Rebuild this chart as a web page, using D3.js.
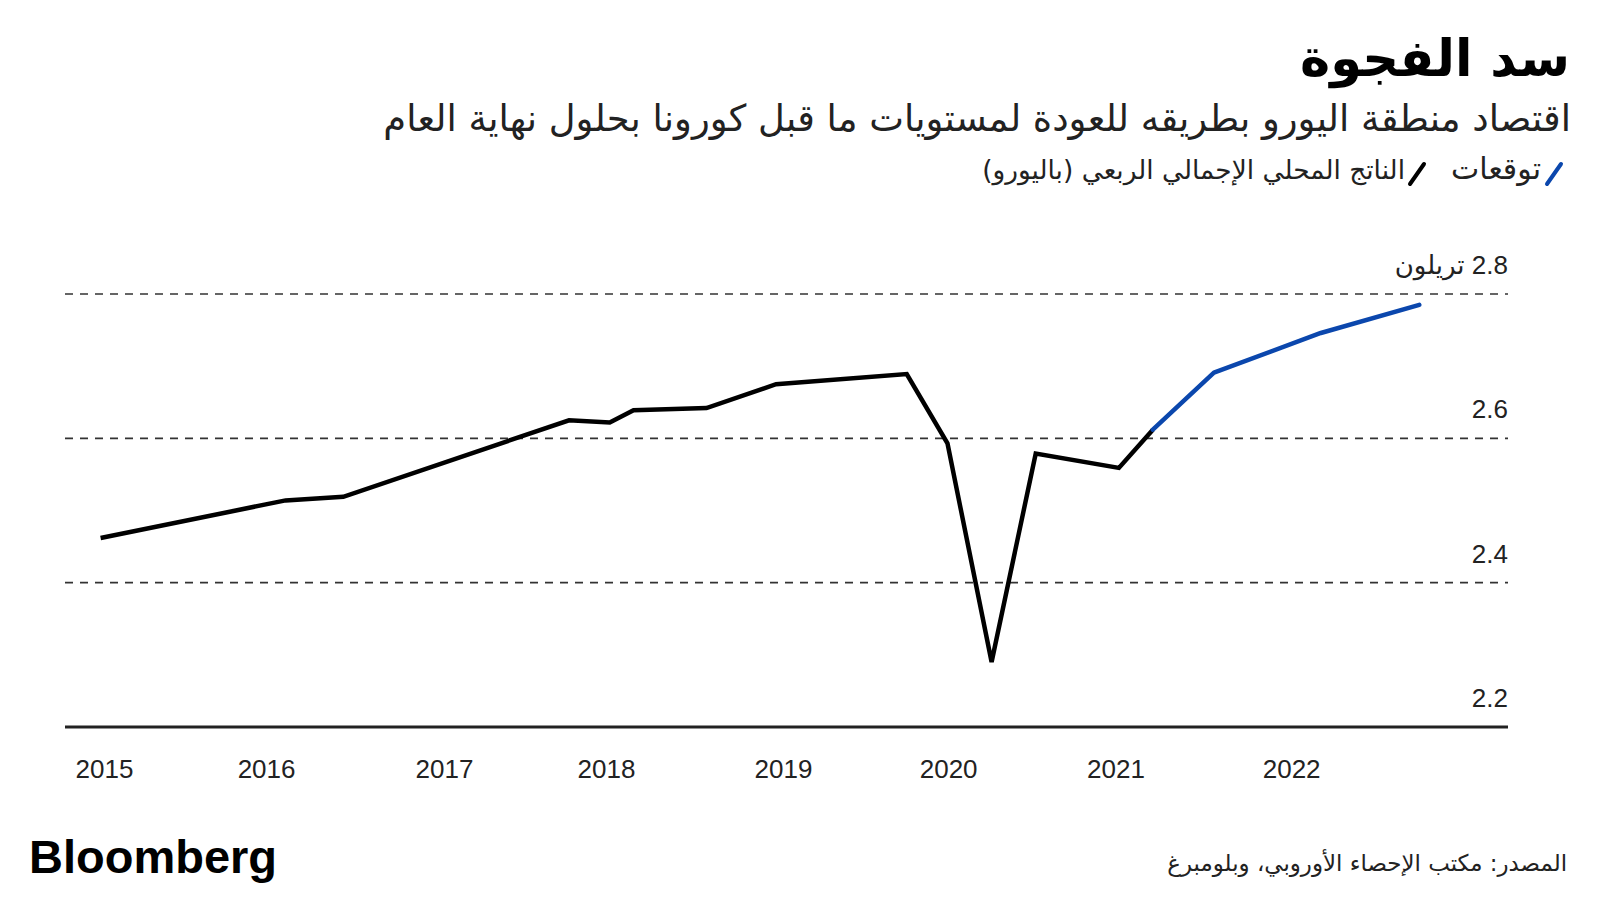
<!DOCTYPE html>
<html><head><meta charset="utf-8">
<script src="https://cdn.jsdelivr.net/npm/d3@7"></script>
<style>body{margin:0;background:#fff;} svg{display:block}</style>
</head><body>
<svg id="c" width="1600" height="900"></svg>
<script>
// ---- data ----
const titleText = "سد الفجوة";
const subtitleText = "اقتصاد منطقة اليورو بطريقه للعودة لمستويات ما قبل كورونا بحلول نهاية العام";
const legendLabels = ["توقعات", "الناتج المحلي الإجمالي الربعي (باليورو)"];
const sourceText = "المصدر: مكتب الإحصاء الأوروبي، وبلومبرغ";
const unitText = "تريلون";

const gdpDates = [2014.98, 2016.07, 2016.41, 2017.74, 2017.98, 2018.12, 2018.55, 2018.96, 2019.73, 2019.97, 2020.23, 2020.49, 2020.98, 2021.18];
const gdpValues = [2.462, 2.514, 2.519, 2.625, 2.622, 2.639, 2.642, 2.675, 2.689, 2.593, 2.290, 2.579, 2.559, 2.612];
const forecastDates = [2021.18, 2021.54, 2022.17, 2022.75];
const forecastValues = [2.612, 2.691, 2.746, 2.785];

const xTickLabels = ["2015", "2016", "2017", "2018", "2019", "2020", "2021", "2022"];
const xTickPositions = [2015.0, 2015.955, 2017.003, 2017.958, 2019.001, 2019.974, 2020.96, 2021.995];
const yTicks = [2.2, 2.4, 2.6, 2.8];

// ---- drawing ----
const svg = d3.select("#c");
const x = d3.scaleLinear().domain([2015, 2022]).range([104, 1292]);
const y = d3.scaleLinear().domain([2.2, 2.8]).range([727, 294]);
const L = 65, R = 1508;
const blue = "#0b47ad";

function fit(sel, w) {
  const cur = sel.node().getComputedTextLength();
  const fs = parseFloat(sel.attr("font-size"));
  sel.attr("font-size", (fs * w / cur).toFixed(2));
}

// title
const t = svg.append("text").attr("x", 1570).attr("y", 76)
  .attr("direction", "rtl").attr("text-anchor", "start")
  .attr("font-family", "DejaVu Sans").attr("font-weight", "bold")
  .attr("font-size", 48).attr("fill", "#000").text(titleText);
fit(t, 270);

const st = svg.append("text").attr("x", 1571).attr("y", 131)
  .attr("direction", "rtl").attr("text-anchor", "start")
  .attr("font-family", "DejaVu Sans")
  .attr("font-size", 30).attr("fill", "#222").text(subtitleText);
fit(st, 1188);

// legend
svg.append("line").attr("x1", 1547).attr("y1", 184).attr("x2", 1561).attr("y2", 164)
  .attr("stroke", blue).attr("stroke-width", 4).attr("stroke-linecap", "round");
const l1 = svg.append("text").attr("x", 1541).attr("y", 179)
  .attr("direction", "rtl").attr("text-anchor", "start")
  .attr("font-family", "DejaVu Sans").attr("font-size", 22).attr("fill", "#222")
  .text(legendLabels[0]);
fit(l1, 90);
svg.append("line").attr("x1", 1410).attr("y1", 184).attr("x2", 1424).attr("y2", 164)
  .attr("stroke", "#000").attr("stroke-width", 4).attr("stroke-linecap", "round");
const l2 = svg.append("text").attr("x", 1405).attr("y", 179)
  .attr("direction", "rtl").attr("text-anchor", "start")
  .attr("font-family", "DejaVu Sans").attr("font-size", 22).attr("fill", "#222")
  .text(legendLabels[1]);
fit(l2, 423);

// gridlines
svg.append("g").selectAll("line").data(yTicks.filter(d => d > 2.2)).join("line")
  .attr("x1", L).attr("x2", R).attr("y1", d => y(d)).attr("y2", d => y(d))
  .attr("stroke", "#333").attr("stroke-width", 1.6).attr("stroke-dasharray", "8,7");

// baseline
svg.append("line").attr("x1", L).attr("x2", R).attr("y1", y(2.2)).attr("y2", y(2.2))
  .attr("stroke", "#222").attr("stroke-width", 3);

// y labels
svg.append("g").selectAll("text").data(yTicks).join("text")
  .attr("x", R).attr("y", d => y(d) - 20)
  .attr("direction", "rtl").attr("text-anchor", "start")
  .attr("font-family", "Liberation Sans, DejaVu Sans").attr("font-size", 26).attr("fill", "#222")
  .text(d => d === 2.8 ? d.toFixed(1) + " " + unitText : d.toFixed(1));

// x axis labels
const xAxis = d3.axisBottom(x).tickValues(xTickPositions)
  .tickFormat((d, i) => xTickLabels[i]).tickSize(0).tickPadding(0);
const gx = svg.append("g").attr("transform", "translate(0,760)").call(xAxis);
gx.select(".domain").remove();
gx.selectAll("text").attr("font-family", "Liberation Sans").attr("font-size", 26)
  .attr("fill", "#222").attr("dy", "0.71em");

// lines
const line = d3.line().x(d => x(d[0])).y(d => y(d[1]));
svg.append("path").datum(d3.zip(gdpDates, gdpValues)).attr("d", line)
  .attr("fill", "none").attr("stroke", "#000").attr("stroke-width", 4.5)
  .attr("stroke-linejoin", "miter").attr("stroke-linecap", "butt");
svg.append("path").datum(d3.zip(forecastDates, forecastValues)).attr("d", line)
  .attr("fill", "none").attr("stroke", blue).attr("stroke-width", 4.5)
  .attr("stroke-linejoin", "round").attr("stroke-linecap", "round");

// footer
svg.append("text").attr("x", 29).attr("y", 873)
  .attr("font-family", "Liberation Sans").attr("font-weight", "bold")
  .attr("font-size", 47).attr("letter-spacing", 0).attr("fill", "#000").text("Bloomberg");
const src = svg.append("text").attr("x", 1567).attr("y", 871)
  .attr("direction", "rtl").attr("text-anchor", "start")
  .attr("font-family", "DejaVu Sans").attr("font-size", 22).attr("fill", "#222")
  .text(sourceText);
fit(src, 400);
</script>
</body></html>
